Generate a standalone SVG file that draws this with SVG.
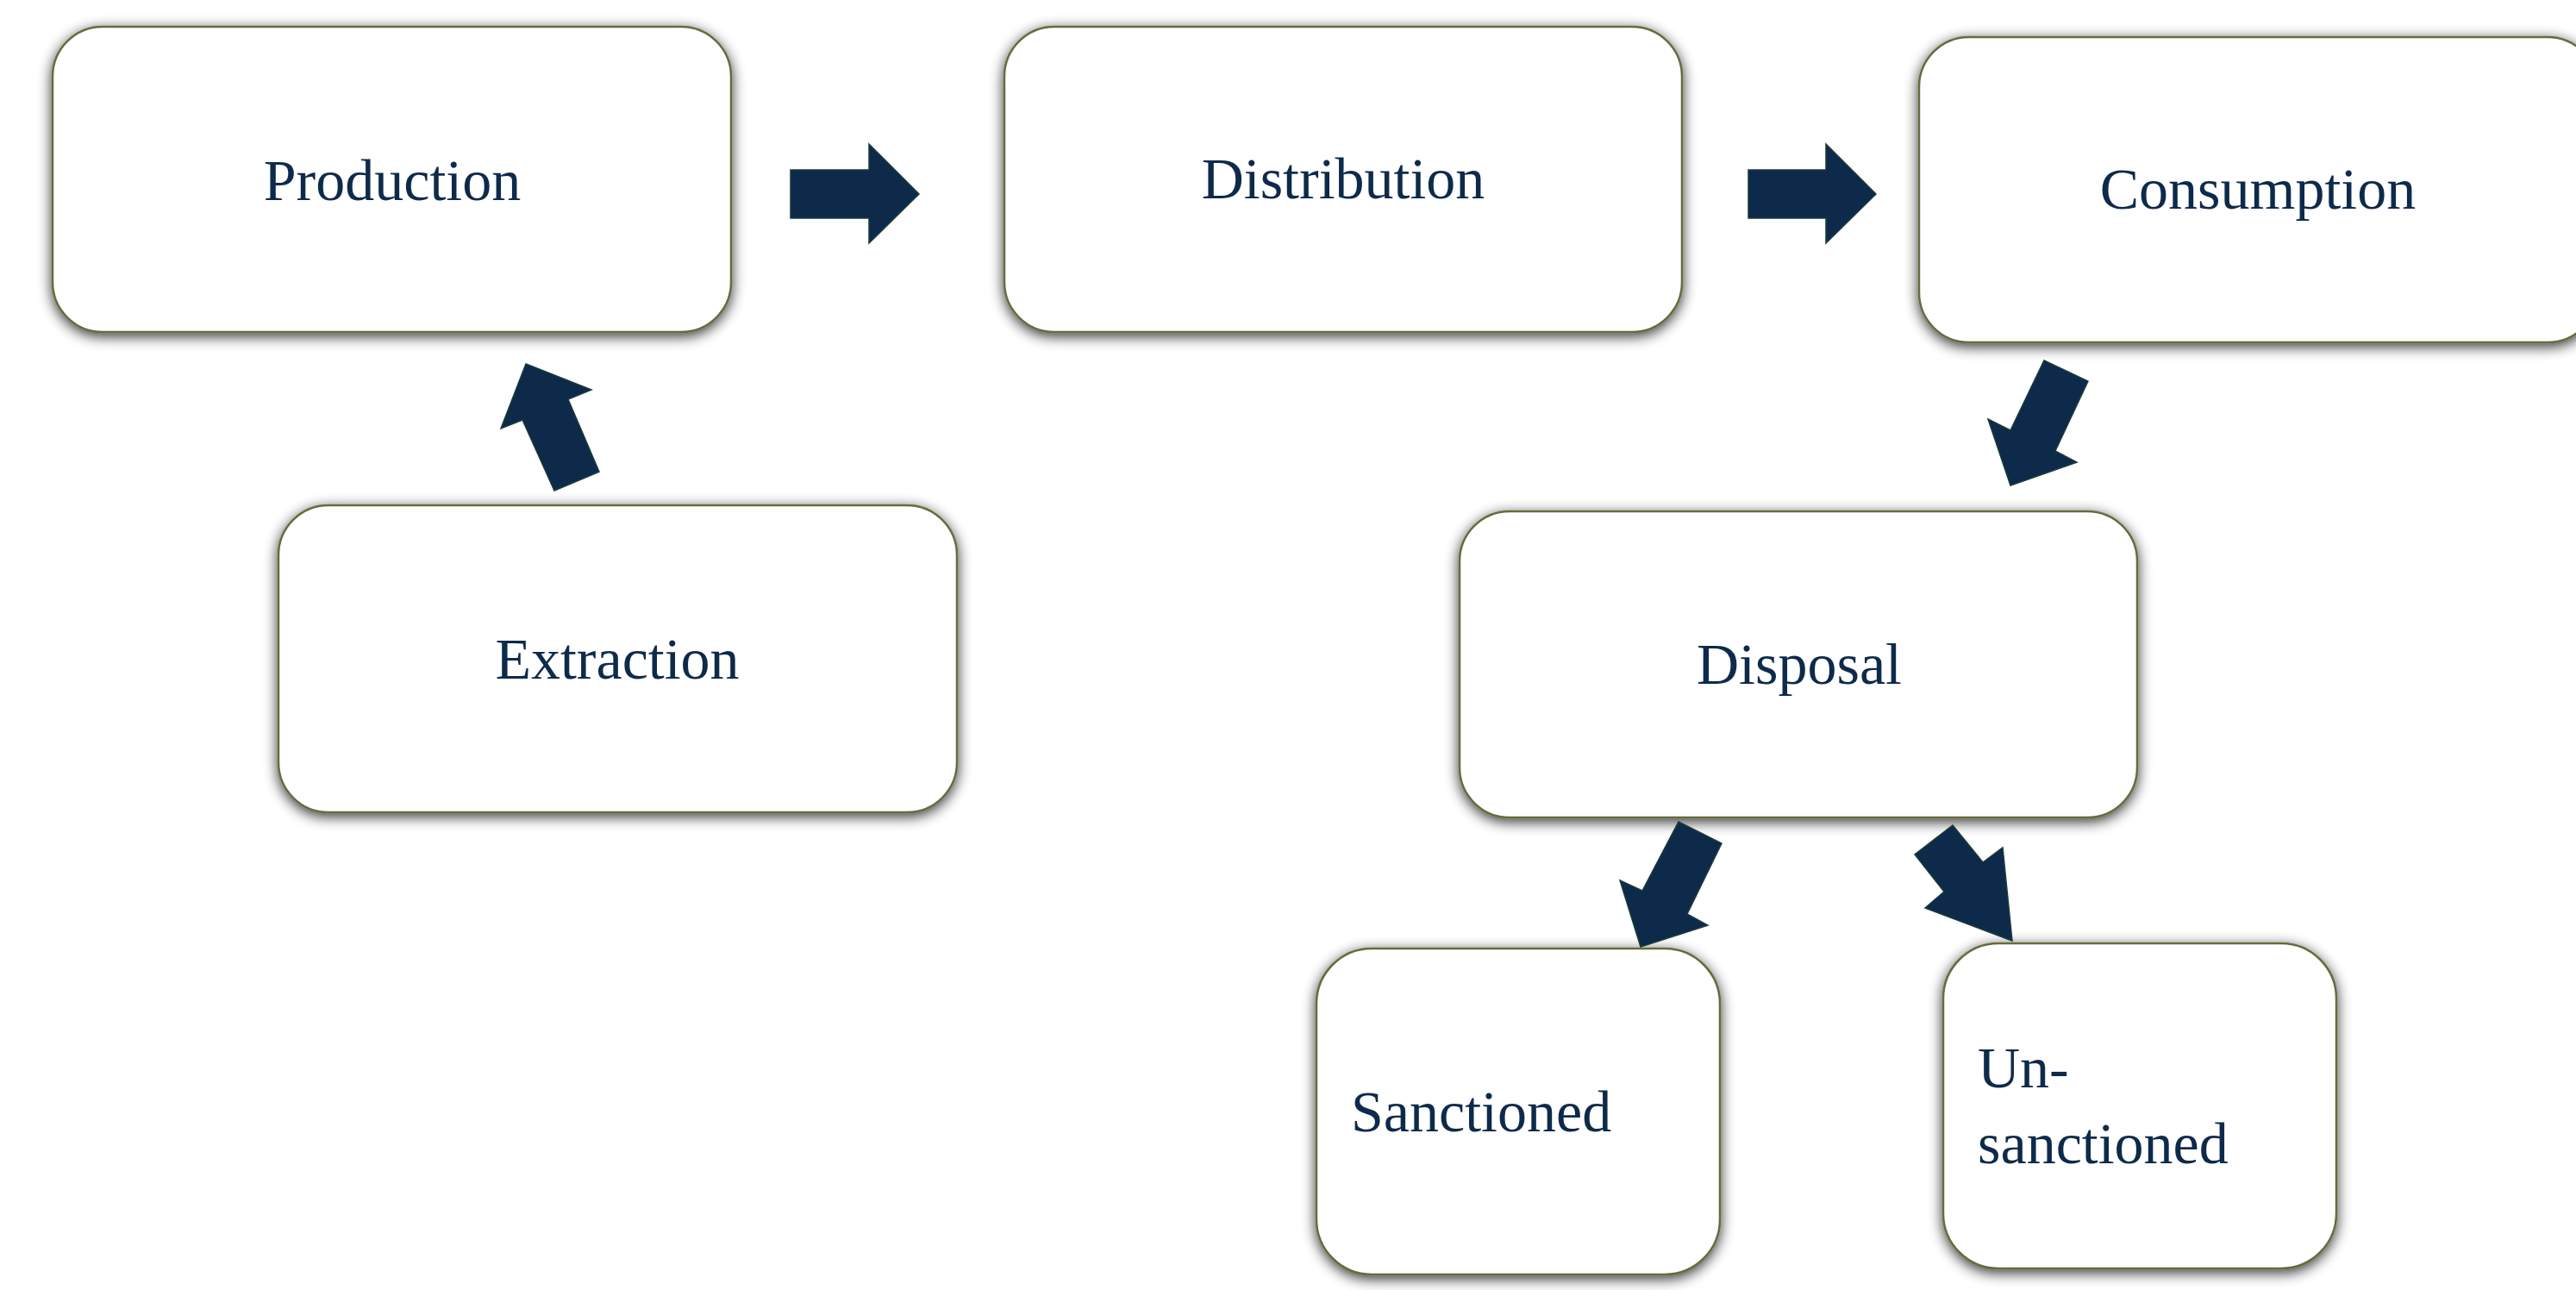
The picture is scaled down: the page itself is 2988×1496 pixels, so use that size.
<svg xmlns="http://www.w3.org/2000/svg" width="2988" height="1496" viewBox="0 0 2988 1496">
  <defs>
    <filter id="shadow" x="-10%" y="-10%" width="120%" height="125%">
      <feGaussianBlur in="SourceAlpha" stdDeviation="8"/>
      <feOffset dx="0" dy="4" result="b"/>
      <feComponentTransfer><feFuncA type="linear" slope="0.8"/></feComponentTransfer>
      <feMerge><feMergeNode/><feMergeNode in="SourceGraphic"/></feMerge>
    </filter>
    <style>
      .box{fill:#ffffff;stroke:#676b3c;stroke-width:2.5;filter:url(#shadow)}
      .lbl{font-family:"Liberation Serif","Times New Roman",serif;font-size:68px;fill:#0e2a4b}
      .mid{text-anchor:middle}
      .arrow{fill:#0d2a4a;stroke:#1d3a3c;stroke-width:1.5;stroke-linejoin:miter}
    </style>
  </defs>
  <rect width="2988" height="1496" fill="#ffffff"/>

  <g id="production">
    <rect class="box" x="61" y="31" width="787" height="354" rx="58" ry="58"/>
    <text class="lbl mid" x="455" y="232">Production</text>
  </g>
  <g id="distribution">
    <rect class="box" x="1165" y="31" width="786" height="354" rx="58" ry="58"/>
    <text class="lbl mid" x="1558" y="230">Distribution</text>
  </g>
  <g id="consumption">
    <rect class="box" x="2226" y="43" width="787" height="354" rx="58" ry="58"/>
    <text class="lbl mid" x="2619" y="242">Consumption</text>
  </g>
  <g id="extraction">
    <rect class="box" x="323" y="586" width="787" height="356" rx="58" ry="58"/>
    <text class="lbl mid" x="716" y="787">Extraction</text>
  </g>
  <g id="disposal">
    <rect class="box" x="1693" y="593" width="786" height="355" rx="58" ry="58"/>
    <text class="lbl mid" x="2087" y="793">Disposal</text>
  </g>
  <g id="sanctioned">
    <rect class="box" x="1527" y="1100" width="468" height="378" rx="64" ry="64"/>
    <text class="lbl" x="1567" y="1312">Sanctioned</text>
  </g>
  <g id="unsanctioned">
    <rect class="box" x="2254" y="1094" width="456" height="377" rx="64" ry="64"/>
    <text class="lbl" x="2294" y="1261">Un-</text>
    <text class="lbl" x="2294" y="1349">sanctioned</text>
  </g>

  <g id="connectors">
    <path class="arrow" d="M917,197 H1008 V167 L1066,225 L1008,282 V253 H917 Z"/>
    <path class="arrow" d="M2028,197 H2118 V167 L2176,225 L2118,282 V253 H2028 Z"/>
    <path class="arrow" d="M610,422 L686,452 L659,463 L695,547 L643,569 L606,487 L581,497 Z"/>
    <path class="arrow" d="M2371,418 L2422,442 L2384,523 L2409,536 L2332,563 L2306,486 L2332,499 Z"/>
    <path class="arrow" d="M1947,953 L1997,978 L1957,1060 L1981,1073 L1903,1098 L1879,1021 L1905,1033 Z"/>
    <path class="arrow" d="M2265,957 L2300,1000 L2323,983 L2334,1091 L2233,1053 L2255,1034 L2221,991 Z"/>
  </g>
</svg>
